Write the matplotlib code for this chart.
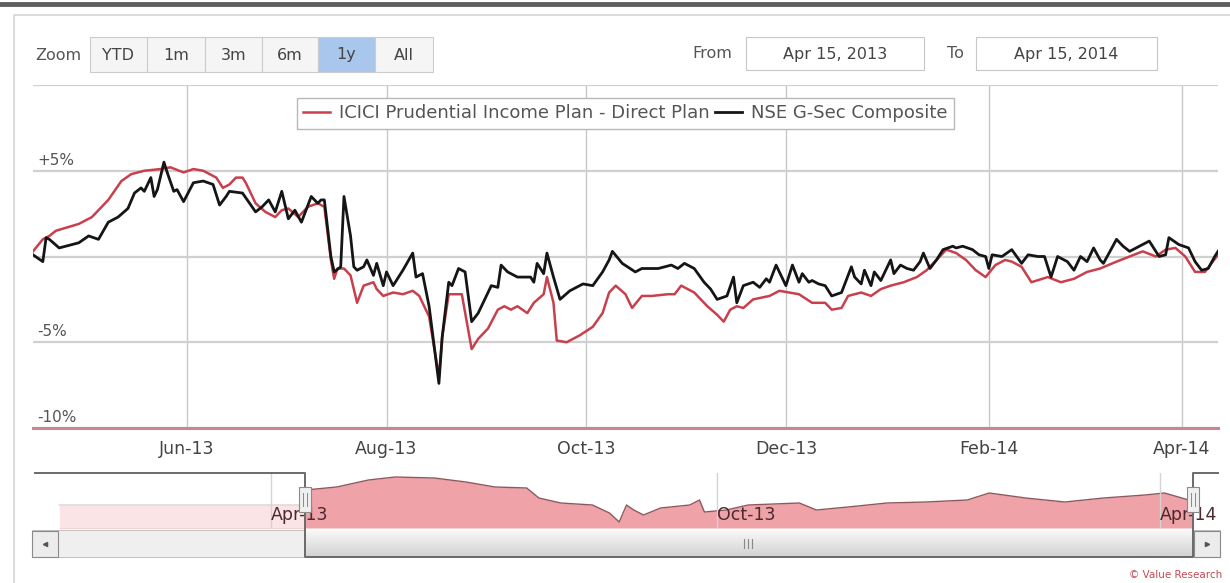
import matplotlib
matplotlib.use("Agg")
import matplotlib.pyplot as plt
import matplotlib.dates as mdates
from matplotlib.patches import Rectangle
from matplotlib.colors import LinearSegmentedColormap
import numpy as np
import pandas as pd

START = pd.Timestamp("2013-04-15")

fund_label = "ICICI Prudential Income Plan - Direct Plan"
index_label = "NSE G-Sec Composite"

# days after 15 Apr 2013 / relative return in %
fund_days = [0, 3, 5, 7, 14, 18, 23, 27, 30, 34, 39, 42, 46, 49, 52, 56, 58, 60, 62, 64,
             65, 68, 71, 74, 76, 78, 81, 84, 87, 89, 91, 92, 93, 95, 97, 99, 101, 104, 105, 107,
             110, 113, 116, 118, 121, 124, 125, 127, 131, 134, 136, 139, 142, 144, 146, 148, 151, 153, 156, 157,
             159, 160, 163, 167, 171, 174, 176, 178, 181, 183, 186, 189, 194, 196, 198, 202, 206, 209, 211, 213,
             215, 217, 220, 225, 228, 231, 234, 238, 242, 244, 247, 249, 253, 256, 259, 262, 266, 270, 273, 276,
             279, 282, 285, 288, 291, 294, 297, 299, 302, 305, 310, 314, 318, 322, 326, 331, 335, 339, 343, 346,
             349, 352, 355, 358, 360, 362]
fund_ret = [0.3, 1.0, 1.2, 1.5, 1.9, 2.3, 3.3, 4.4, 4.8, 5.0, 5.1, 5.2, 4.9, 5.1, 5.0, 4.6, 4.0, 4.2, 4.6, 4.6,
            4.3, 3.1, 2.6, 2.3, 2.7, 2.8, 2.3, 2.9, 3.1, 2.9, -0.2, -1.3, -0.7, -0.7, -1.1, -2.7, -1.7, -1.5, -1.9, -2.3,
            -2.1, -2.2, -2.0, -2.3, -3.5, -7.0, -4.7, -2.2, -2.2, -5.4, -4.8, -4.2, -3.1, -2.9, -3.1, -2.9, -3.3, -2.7, -2.2, -1.2,
            -2.7, -4.9, -5.0, -4.6, -4.1, -3.3, -2.1, -1.7, -2.2, -3.0, -2.3, -2.3, -2.2, -2.2, -1.7, -2.1, -2.9, -3.4, -3.8, -3.1,
            -2.9, -3.0, -2.5, -2.3, -2.0, -2.1, -2.2, -2.7, -2.7, -3.1, -3.0, -2.3, -2.1, -2.3, -1.9, -1.7, -1.5, -1.2, -0.8, -0.2,
            0.4, 0.2, -0.2, -0.8, -1.2, -0.5, -0.2, -0.3, -0.6, -1.5, -1.2, -1.5, -1.3, -0.9, -0.7, -0.3, 0.0, 0.3, 0.0, 0.4,
            0.5, 0.0, -0.9, -0.9, -0.4, 0.1]

index_days = [0, 3, 4, 5, 8, 12, 14, 17, 20, 23, 26, 29, 31, 33, 34, 36, 37, 38, 40, 41,
              43, 44, 46, 49, 52, 55, 57, 59, 60, 64, 68, 70, 72, 74, 76, 78, 80, 82, 85, 87,
              88, 89, 91, 92, 94, 95, 97, 98, 99, 101, 102, 104, 105, 107, 108, 110, 113, 116, 117, 119,
              121, 124, 125, 127, 128, 130, 132, 134, 136, 138, 140, 142, 143, 145, 148, 152, 153, 154, 156, 157,
              159, 161, 164, 168, 171, 174, 176, 177, 180, 184, 186, 191, 195, 197, 199, 202, 205, 207, 209, 212,
              214, 215, 217, 220, 222, 224, 225, 227, 229, 230, 232, 234, 235, 237, 238, 240, 242, 244, 247, 248,
              250, 251, 253, 254, 256, 257, 259, 260, 262, 263, 265, 267, 269, 271, 272, 274, 276, 278, 281, 282,
              284, 287, 289, 291, 292, 293, 296, 299, 302, 304, 307, 309, 311, 313, 316, 318, 320, 322, 324, 326,
              327, 331, 333, 335, 338, 341, 344, 346, 347, 350, 353, 355, 357, 359, 361, 362]
index_ret = [0.1, -0.3, 1.1, 1.0, 0.5, 0.7, 0.8, 1.2, 1.0, 2.0, 2.3, 2.8, 3.7, 4.0, 3.8, 4.6, 3.5, 3.9, 5.5, 4.9,
             3.8, 3.9, 3.2, 4.3, 4.4, 4.2, 3.0, 3.5, 3.8, 3.7, 2.6, 2.9, 3.3, 2.6, 3.8, 2.2, 2.7, 2.0, 3.5, 3.1,
             3.3, 3.3, 0.0, -0.9, -0.6, 3.5, 1.2, -0.6, -0.8, -0.6, -0.2, -1.1, -0.4, -1.7, -0.9, -1.7, -0.8, 0.2, -1.2, -1.0,
             -2.9, -7.4, -4.7, -1.5, -1.7, -0.7, -0.9, -3.8, -3.3, -2.5, -1.7, -1.8, -0.5, -0.9, -1.2, -1.2, -1.5, -0.4, -1.0, 0.2,
             -1.2, -2.5, -2.0, -1.6, -1.7, -0.9, -0.2, 0.3, -0.4, -0.9, -0.7, -0.7, -0.5, -0.7, -0.4, -0.7, -1.5, -1.9, -2.5, -2.3,
             -1.2, -2.7, -1.7, -1.5, -1.8, -1.3, -1.5, -0.5, -1.3, -1.7, -0.5, -1.5, -1.0, -1.5, -1.4, -1.6, -1.7, -2.3, -2.1, -1.6,
             -0.6, -1.2, -1.6, -0.8, -1.7, -0.9, -1.4, -1.0, -0.2, -1.0, -0.5, -0.7, -0.8, -0.3, 0.2, -0.7, -0.2, 0.4, 0.6, 0.5,
             0.6, 0.4, 0.1, 0.0, -0.7, 0.1, 0.0, 0.4, -0.4, 0.1, 0.0, 0.0, -1.2, 0.0, -0.3, -0.8, 0.0, -0.3, 0.5, -0.2,
             -0.4, 1.0, 0.6, 0.3, 0.6, 0.9, 0.0, 0.1, 1.1, 0.7, 0.5, -0.3, -0.8, -0.7, 0.0, 0.3]

# navigator series (arbitrary level)
nav_days = [-101, -2, 0, 13, 26, 37, 53, 66, 78, 91, 96, 105, 118, 125, 129, 132, 135, 139, 146,
            158, 162, 164, 173, 182, 203, 210, 223, 239, 255, 272, 281, 296, 312, 328, 345, 353, 363, 365]
nav_level = [23, 23, 38, 41, 48, 51, 50, 46, 41, 40, 30, 25, 23, 15, 6, 23, 18, 13, 20,
             23, 28, 16, 18, 23, 25, 18, 21, 25, 26, 28, 35, 30, 26, 30, 33, 35, 28, 25]

y_ticks = [5, -5, -10]
y_tick_labels = ["+5%", "-5%", "-10%"]
zoom_buttons = ["YTD", "1m", "3m", "6m", "1y", "All"]
selected_button = "1y"
from_text = "Apr 15, 2013"
to_text = "Apr 15, 2014"

W, H = 1230, 583


def frac(x0, y0, x1, y1):
    return [x0 / W, 1 - y1 / H, (x1 - x0) / W, (y1 - y0) / H]


fig = plt.figure(figsize=(W / 100, H / 100), dpi=100)
ax = fig.add_axes(frac(33, 85, 1218, 428))
nav = fig.add_axes(frac(35, 473, 1218, 528))
ui = fig.add_axes([0, 0, 1, 1], zorder=10)
ui.patch.set_visible(False)

# main chart
fund_dates = START + pd.to_timedelta(fund_days, unit="D")
index_dates = START + pd.to_timedelta(index_days, unit="D")
ax.plot(fund_dates, fund_ret, color="#c8404c", lw=1.8, label=fund_label, zorder=3)
ax.plot(index_dates, index_ret, color="#151515", lw=2.0, label=index_label, zorder=4)
ax.set_xlim(START, START + pd.Timedelta(days=362))
ax.set_ylim(-10, 10)
ax.set_yticks([-10, -5, 0, 5, 10])
ax.tick_params(axis="y", left=False, labelleft=False)
ax.xaxis.set_major_locator(mdates.MonthLocator(bymonth=(2, 4, 6, 8, 10, 12)))
ax.xaxis.set_major_formatter(mdates.DateFormatter("%b-%y"))
ax.tick_params(axis="x", length=0, pad=9, labelsize=12.5, labelcolor="#444444")
ax.grid(axis="y", color="#d0d0d0", lw=1.6)
ax.grid(axis="x", color="#c8c8c8", lw=1.0)
ax.axhline(-10, color="#cc858c", lw=2.2, clip_on=False, zorder=2)
for s in ax.spines.values():
    s.set_visible(False)
for v, lab in zip(y_ticks, y_tick_labels):
    ax.annotate(lab, xy=(0, v), xycoords=ax.get_yaxis_transform(), xytext=(3, 2),
                textcoords="offset points", ha="left", va="bottom", fontsize=11, color="#555555")
leg = ax.legend(loc="upper center", bbox_to_anchor=(0.5, 0.962), ncol=2, fontsize=13,
                frameon=True, fancybox=False, edgecolor="#b8b8b8", framealpha=1,
                borderaxespad=0, borderpad=0.35, handlelength=1.5, handletextpad=0.5,
                columnspacing=0.3)
for t in leg.get_texts():
    t.set_color("#555555")

# navigator
nav_dates = START + pd.to_timedelta(nav_days, unit="D")
nav_left = START - pd.Timedelta(days=111)
nav_right = START + pd.Timedelta(days=375)
nav_end = START + pd.Timedelta(days=365)
nav.fill_between(nav_dates, nav_level, 0, color="#efa2a8", lw=0, zorder=0.8)
nav.plot(nav_dates, nav_level, color="#8c5a5e", lw=1, zorder=0.9)
nav.axvspan(nav_left, START, color="white", alpha=0.72, lw=0, zorder=1.0)
nav.axvspan(nav_end, nav_right, color="white", alpha=0.72, lw=0, zorder=1.0)
nav.set_xlim(nav_left, nav_right)
nav.set_ylim(0, 55)
nav.set_yticks([])
nav.xaxis.set_major_locator(mdates.MonthLocator(bymonth=(4, 10)))
nav.xaxis.set_major_formatter(mdates.DateFormatter("%b-%y"))
nav.tick_params(axis="x", length=0, pad=-9.5, labelsize=12.5, labelcolor="#4a2a30")
plt.setp(nav.get_xticklabels(), ha="left", va="center")
nav.grid(axis="x", color="#d4d4d4", lw=1)
for s in nav.spines.values():
    s.set_visible(False)

# chrome: page lines and frame
ui.plot([0, W], [4, 4], color="#5f5f5f", lw=3.5)
ui.plot([14, 14, W], [H, 15, 15], color="#d5d5d5", lw=1.2)

# range selector buttons
ui.text(58, 55, "Zoom", ha="center", va="center", fontsize=11.5, color="#555555")
edges = [90, 147, 205, 262, 318, 375, 433]
for i, lab in enumerate(zoom_buttons):
    fc = "#a9c6ec" if lab == selected_button else "#f5f5f5"
    ui.add_patch(Rectangle((edges[i], 37), edges[i + 1] - edges[i], 35, fc=fc, ec="#cccccc", lw=0.8))
    ui.text((edges[i] + edges[i + 1]) / 2, 55, lab, ha="center", va="center", fontsize=11.5, color="#444444")

ui.text(712, 54, "From", ha="center", va="center", fontsize=11.5, color="#555555")
ui.add_patch(Rectangle((746, 37), 178, 33, fc="white", ec="#c8c8c8", lw=0.8))
ui.text(835, 54, from_text, ha="center", va="center", fontsize=11.5, color="#444444")
ui.text(955, 54, "To", ha="center", va="center", fontsize=11.5, color="#555555")
ui.add_patch(Rectangle((976, 37), 181, 33, fc="white", ec="#c8c8c8", lw=0.8))
ui.text(1066, 54, to_text, ha="center", va="center", fontsize=11.5, color="#444444")

# scrollbar
ui.add_patch(Rectangle((32, 530), 1188, 27, fc="#efefef", ec="#c0c0c0", lw=0.7))
grad = np.linspace(0, 1, 30).reshape(-1, 1)
cmap = LinearSegmentedColormap.from_list("thumb", ["#f8f8f8", "#d2d2d2"])
ui.imshow(grad, extent=(305, 1193, 557, 530), aspect="auto", cmap=cmap, zorder=1)
for gx in (744, 748, 752):
    ui.plot([gx, gx], [539, 548], color="#888888", lw=0.8)
for bx, mk in ((32, "<"), (1194, ">")):
    ui.add_patch(Rectangle((bx, 531), 26, 26, fc="#ececec", ec="#8a8a8a", lw=0.8))
    ui.plot(bx + 13, 544, marker=mk, ms=3, color="#555555")

# navigator outline and handles
ui.plot([35, 305, 305, 1193, 1193, 1218], [473, 473, 557, 557, 473, 473], color="#6a6a6a", lw=1.4)
for hx in (305, 1193):
    ui.add_patch(Rectangle((hx - 6, 487), 12, 25, fc="#f0f0f0", ec="#8a8a8a", lw=0.8, zorder=3))
    for gx in (hx - 2, hx + 2):
        ui.plot([gx, gx], [493, 506], color="#888888", lw=0.7, zorder=4)

ui.text(1222, 575, "\u00a9 Value Research", ha="right", va="center", fontsize=7.5, color="#c44a55")

ui.set_xlim(0, W)
ui.set_ylim(H, 0)
ui.axis("off")

fig.savefig("out.png", dpi=100)
